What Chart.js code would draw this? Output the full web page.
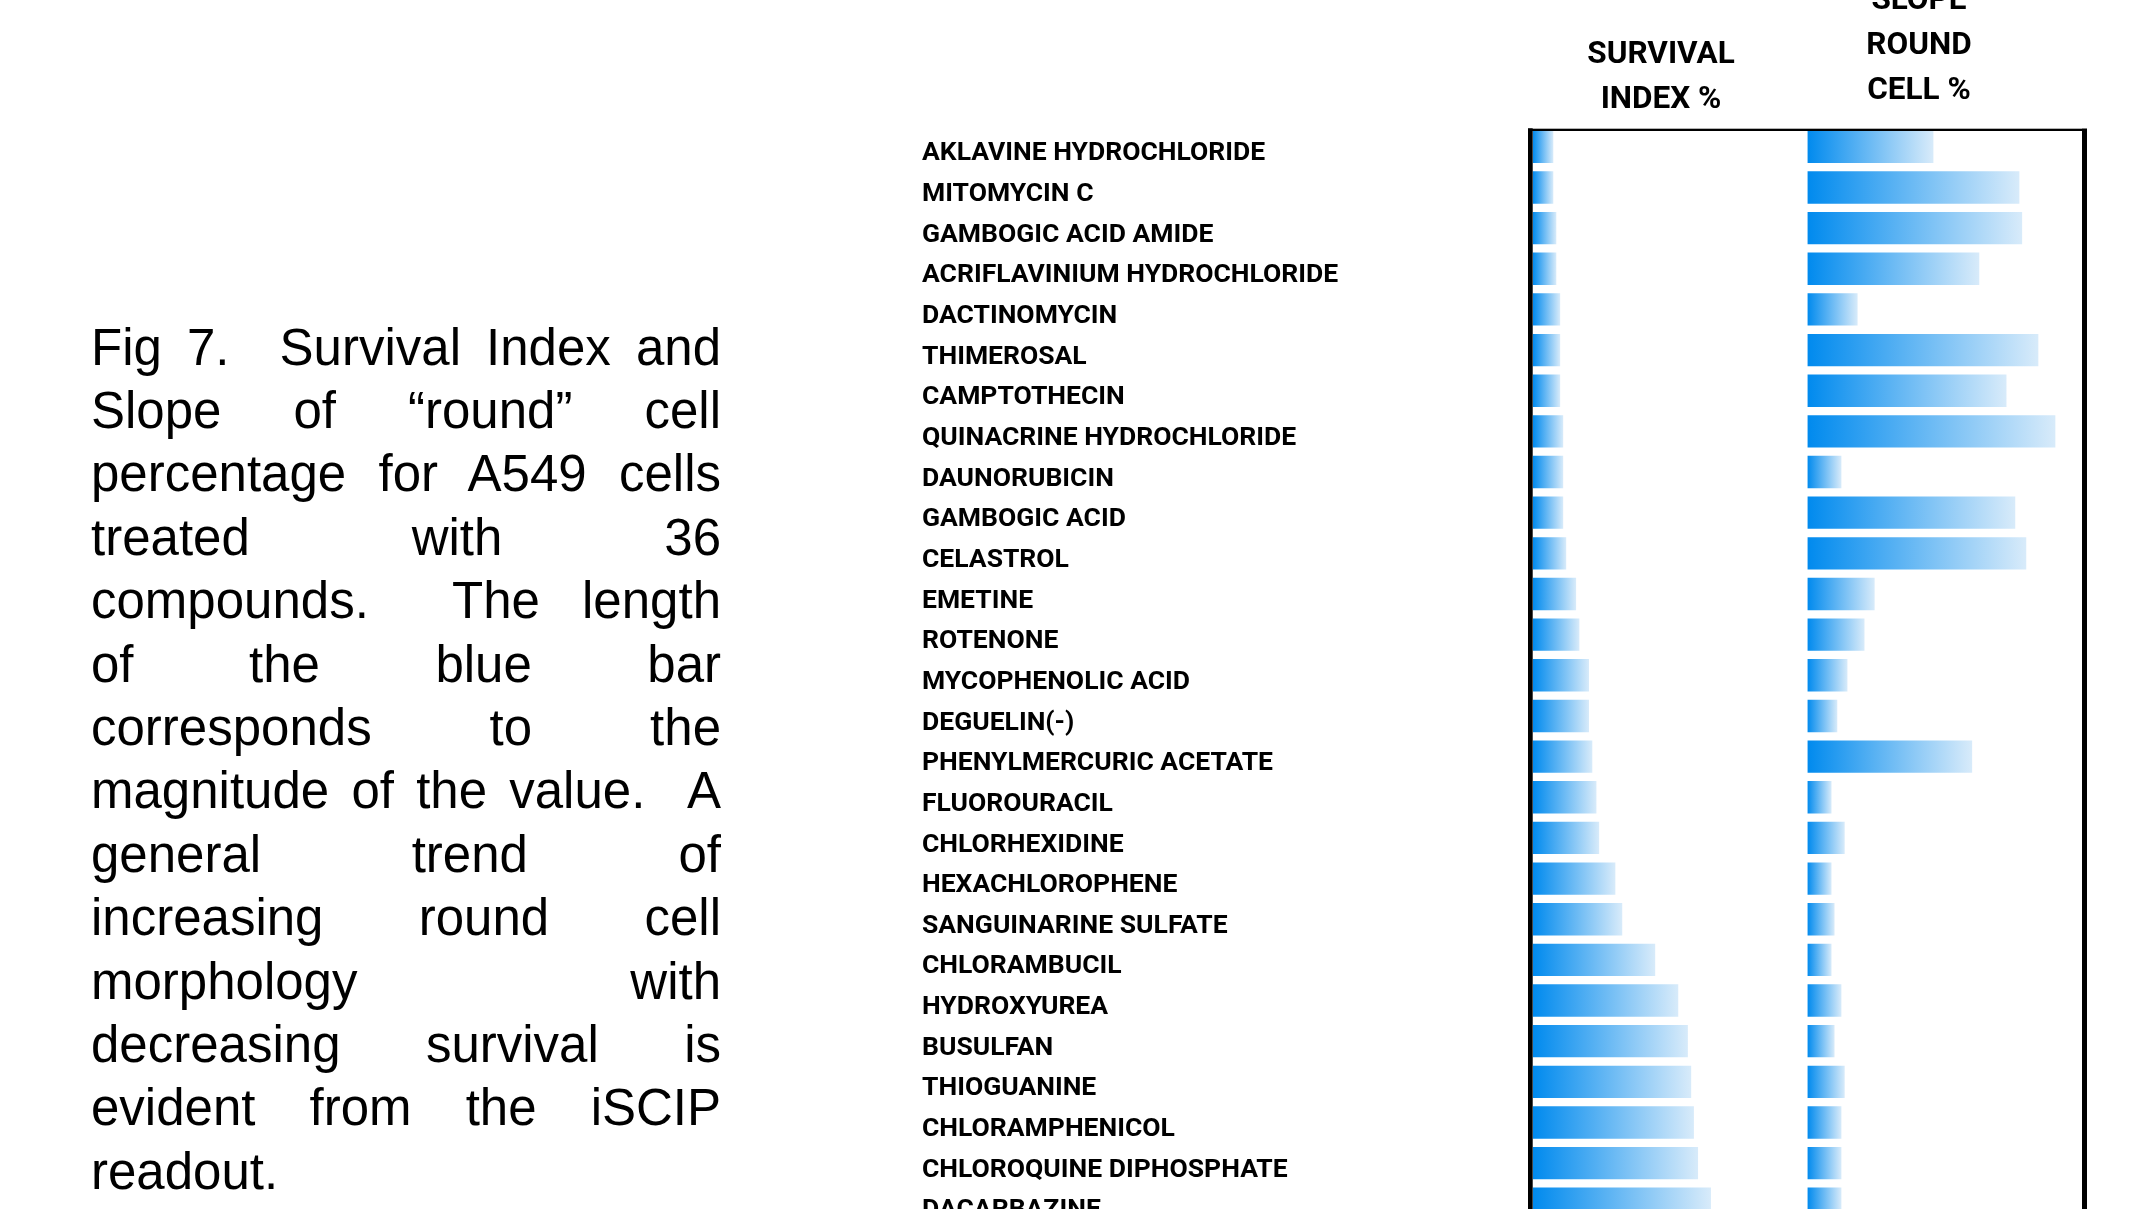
<!DOCTYPE html>
<html>
<head>
<meta charset="utf-8">
<title>Fig 7 - Survival Index and Slope of round cell %</title>
<script src="https://cdn.jsdelivr.net/npm/chart.js@4.4.1/dist/chart.umd.min.js"></script>
<style>
  html, body { margin: 0; padding: 0; overflow: hidden; background: #fff; }
  body { width: 2136px; height: 1209px; position: relative; }
  #chart { position: absolute; left: 0; top: 0; }
  #caption {
    position: absolute; left: 91px; top: 315.6px; width: 630px;
    font-family: "Liberation Sans", Arial, sans-serif; font-size: 51px;
    line-height: 63.4px; color: #000;
  }
  #caption div { text-align: justify; text-align-last: justify; }
  #caption div.last { text-align-last: left; }
  .hdr {
    position: absolute; width: 300px; text-align: center; color: #000;
    font-family: Roboto, sans-serif; font-weight: 700; font-size: 31.5px; line-height: 44.7px;
  }
</style>
</head>
<body>
<canvas id="chart" width="2136" height="1240"></canvas>

<div id="caption">
  <div>Fig 7.&nbsp; Survival Index and</div>
  <div>Slope of “round” cell</div>
  <div>percentage for A549 cells</div>
  <div>treated with 36</div>
  <div>compounds.&nbsp; The length</div>
  <div>of the blue bar</div>
  <div>corresponds to the</div>
  <div>magnitude of the value.&nbsp; A</div>
  <div>general trend of</div>
  <div>increasing round cell</div>
  <div>morphology with</div>
  <div>decreasing survival is</div>
  <div>evident from the iSCIP</div>
  <div class="last">readout.</div>
</div>

<div class="hdr" style="left:1511px; top:30.9px;">SURVIVAL<br>INDEX %</div>
<div class="hdr" style="left:1769px; top:-22.8px;">SLOPE<br>ROUND<br>CELL %</div>

<script>
// compounds visible in the figure (list continues below the crop)
const compounds = [
  "AKLAVINE HYDROCHLORIDE", "MITOMYCIN C", "GAMBOGIC ACID AMIDE",
  "ACRIFLAVINIUM HYDROCHLORIDE", "DACTINOMYCIN", "THIMEROSAL", "CAMPTOTHECIN",
  "QUINACRINE HYDROCHLORIDE", "DAUNORUBICIN", "GAMBOGIC ACID", "CELASTROL",
  "EMETINE", "ROTENONE", "MYCOPHENOLIC ACID", "DEGUELIN(-)",
  "PHENYLMERCURIC ACETATE", "FLUOROURACIL", "CHLORHEXIDINE", "HEXACHLOROPHENE",
  "SANGUINARINE SULFATE", "CHLORAMBUCIL", "HYDROXYUREA", "BUSULFAN",
  "THIOGUANINE", "CHLORAMPHENICOL", "CHLOROQUINE DIPHOSPHATE", "DACARBAZINE"
];

// survival index %
const survivalIndex = [
  7.5, 7.5, 8.6, 8.6, 10.0, 10.0, 10.0, 11.1, 11.1, 11.1, 12.2,
  15.8, 17.0, 20.5, 20.5, 21.7, 23.2, 24.2, 30.1, 32.6,
  44.6, 53.0, 56.5, 57.7, 58.7, 60.2, 64.9
];

// slope of round cell %
const slopeRoundCell = [
  45.9, 77.2, 78.2, 62.6, 18.3, 84.1, 72.5, 90.3, 12.4, 75.7, 79.7,
  24.5, 20.8, 14.6, 10.9, 60.0, 8.8, 13.6, 8.8, 9.9,
  8.8, 12.4, 9.9, 13.6, 12.4, 12.4, 12.4
];

const axisMax = [100, 100];

// excel style data bar: strong blue fading to pale blue along each bar
function barGradient(context, axisId) {
  const chart = context.chart;
  const scale = chart.scales[axisId];
  if (!scale || context.raw == null) return "#008AEE";
  const x0 = scale.getPixelForValue(0);
  const x1 = scale.getPixelForValue(context.raw);
  if (!isFinite(x0) || !isFinite(x1) || x1 <= x0) return "#008AEE";
  const g = chart.ctx.createLinearGradient(x0, 0, x1, 0);
  g.addColorStop(0, "#008AEE");
  g.addColorStop(1, "#D8EBFA");
  return g;
}

// black frame around the two columns
const framePlugin = {
  id: "frame",
  afterDatasetsDraw(chart) {
    const { ctx, chartArea: a, height } = chart;
    ctx.save();
    ctx.fillStyle = "#000";
    ctx.fillRect(a.left - 4.7, a.top + 1.8, 4.7, height);
    ctx.fillRect(a.left - 4.7, a.top + 2.2, a.right - a.left + 9.7, 2.3);
    ctx.fillRect(a.right, a.top + 2.2, 5, height);
    ctx.restore();
  }
};

const ctx = document.getElementById("chart");

new Chart(ctx, {
  type: "bar",
  data: {
    labels: compounds,
    datasets: [
      {
        label: "SURVIVAL INDEX %",
        data: survivalIndex,
        xAxisID: "xSurvival",
        backgroundColor: (c) => barGradient(c, "xSurvival"),
        grouped: false,
        barPercentage: 0.796,
        categoryPercentage: 1,
        borderWidth: 0
      },
      {
        label: "SLOPE ROUND CELL %",
        data: slopeRoundCell,
        xAxisID: "xSlope",
        backgroundColor: (c) => barGradient(c, "xSlope"),
        grouped: false,
        barPercentage: 0.796,
        categoryPercentage: 1,
        borderWidth: 0
      }
    ]
  },
  options: {
    indexAxis: "y",
    responsive: false,
    animation: false,
    layout: { padding: { left: 922, right: 54, top: 126.5, bottom: 14.6 } },
    plugins: {
      legend: { display: false },
      tooltip: { enabled: false }
    },
    scales: {
      // two value axes side by side, one per column
      xSurvival: {
        type: "linear", position: "bottom", stack: "columns", stackWeight: 1,
        min: 0, max: axisMax[0], display: false
      },
      xSlope: {
        type: "linear", position: "bottom", stack: "columns", stackWeight: 1,
        min: 0, max: axisMax[1], display: false
      },
      y: {
        type: "category",
        grid: { display: false },
        border: { display: false },
        ticks: {
          autoSkip: false,
          crossAlign: "far",
          padding: 0,
          labelOffset: 7, // names sit a little below the bar centres
          color: "#000",
          font: { family: "Roboto", weight: "bold", size: 26.5 }
        },
        afterFit: (scale) => { scale.width = 610.7; }
      }
    }
  },
  plugins: [framePlugin]
});
</script>
</body>
</html>
